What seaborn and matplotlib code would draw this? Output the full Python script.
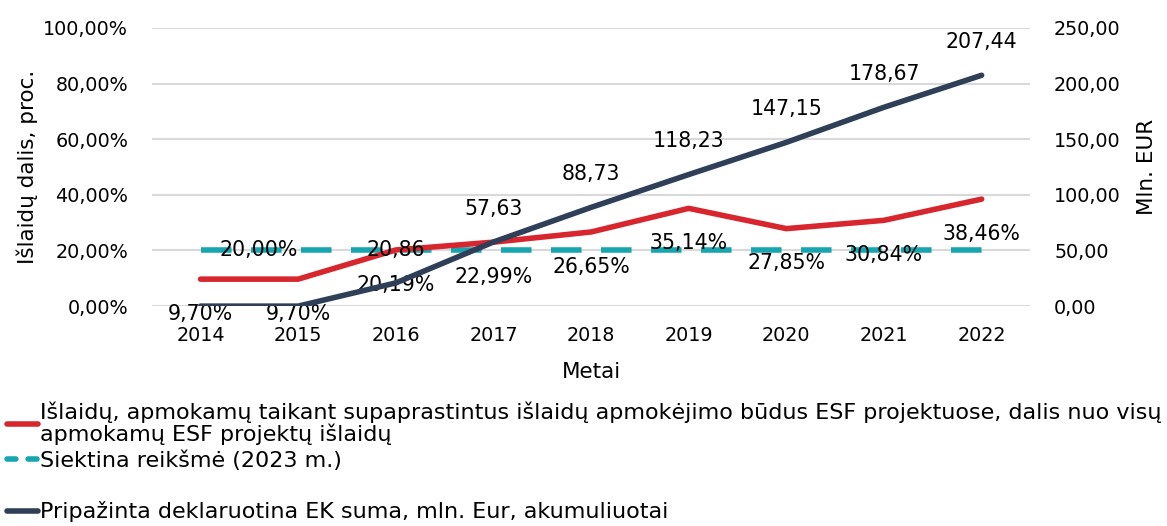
import matplotlib.pyplot as plt
import matplotlib.ticker as mticker
from matplotlib.lines import Line2D
import numpy as np
import pandas as pd
import seaborn as sns

metai = ["2014", "2015", "2016", "2017", "2018", "2019", "2020", "2021", "2022"]
dalis_proc = [9.70, 9.70, 20.19, 22.99, 26.65, 35.14, 27.85, 30.84, 38.46]
siektina = [20.0, 20.0, 20.0, 20.0, 20.0, 20.0, 20.0, 20.0, 20.0]
ek_suma = [0.0, 0.0, 20.86, 57.63, 88.73, 118.23, 147.15, 178.67, 207.44]
ek_zymes = [None, None, "20,86", "57,63", "88,73", "118,23", "147,15", "178,67", "207,44"]

leg_raudona = "Išlaidų, apmokamų taikant supaprastintus išlaidų apmokėjimo būdus ESF projektuose, dalis nuo visų\napmokamų ESF projektų išlaidų"
leg_zydra = "Siektina reikšmė (2023 m.)"
leg_melyna = "Pripažinta deklaruotina EK suma, mln. Eur, akumuliuotai"

RAUDONA = "#d7262e"
ZYDRA = "#17a6b0"
MELYNA = "#2f3f58"


def kablelis(v, n=2):
    return f"{v:.{n}f}".replace(".", ",")


def main():
    sns.set_theme(style="white")
    plt.rcParams["font.family"] = ["DejaVu Sans"]
    plt.rcParams["text.color"] = "black"
    fs = 13.8      # ašių žymės
    fs_zym = 14.8  # duomenų žymės
    fs_pav = 15.5  # ašių pavadinimai
    lw = 4.0

    df = pd.DataFrame({"Metai": metai, "Dalis": dalis_proc, "Siektina": siektina, "EK": ek_suma})
    x = np.arange(len(metai))
    df["x"] = x

    fig, ax = plt.subplots(figsize=(11.67, 5.26), dpi=100)
    fig.subplots_adjust(left=0.130, right=0.883, top=0.947, bottom=0.418)
    ax2 = ax.twinx()

    sns.lineplot(data=df, x="x", y="Siektina", ax=ax, color=ZYDRA, lw=lw, zorder=3)
    sns.lineplot(data=df, x="x", y="Dalis", ax=ax, color=RAUDONA, lw=lw, zorder=4)
    sns.lineplot(data=df, x="x", y="EK", ax=ax2, color=MELYNA, lw=lw, zorder=4)
    ax.lines[0].set_dashes([5.5, 3.5])
    for ln in ax.lines + ax2.lines:
        ln.set_solid_capstyle("round")
        ln.set_dash_capstyle("butt")

    ax.set_ylim(0, 100)
    ax2.set_ylim(0, 250)
    ax.set_xlim(-0.5, len(metai) - 0.5)
    ax.set_yticks(np.arange(0, 101, 20))
    ax2.set_yticks(np.arange(0, 251, 50))
    ax.yaxis.set_major_formatter(mticker.FuncFormatter(lambda v, p: kablelis(v) + "%"))
    ax2.yaxis.set_major_formatter(mticker.FuncFormatter(lambda v, p: kablelis(v)))
    ax.set_xticks(x)
    ax.set_xticklabels(metai)
    ax.grid(axis="y", color="#d9d9d9", lw=1.5, zorder=0)
    ax.set_axisbelow(True)
    for a in (ax, ax2):
        for s in a.spines.values():
            s.set_visible(False)
        a.tick_params(length=0, labelsize=fs, colors="black")
    ax.tick_params(axis="y", pad=17)
    ax2.tick_params(axis="y", pad=17)
    ax.tick_params(axis="x", pad=14.5)

    ax.set_xlabel("Metai", fontsize=fs_pav, labelpad=12, color="black")
    ax.set_ylabel("Išlaidų dalis, proc.", fontsize=fs_pav, labelpad=4, color="black")
    ax2.set_ylabel("Mln. EUR", fontsize=fs_pav, labelpad=12, color="black")

    # duomenų žymės
    for xi, v in zip(x, dalis_proc):
        ax.annotate(kablelis(v) + "%", (xi, v), xytext=(0, -25), textcoords="offset points",
                    ha="center", va="center", fontsize=fs_zym, color="black", zorder=6)
    ax.annotate(kablelis(siektina[0]) + "%", (x[0], siektina[0]), xytext=(42, 0),
                textcoords="offset points", ha="center", va="center", fontsize=fs_zym,
                color="black", zorder=6)
    for xi, v, t in zip(x, ek_suma, ek_zymes):
        if t is None:
            continue
        ax2.annotate(t, (xi, v), xytext=(0, 24), textcoords="offset points",
                     ha="center", va="center", fontsize=fs_zym, color="black", zorder=6)

    handles = [
        Line2D([], [], color=RAUDONA, lw=lw, solid_capstyle="round"),
        Line2D([], [], color=ZYDRA, lw=lw, dashes=[1.6, 2.2], dash_capstyle="round"),
        Line2D([], [], color="none"),
        Line2D([], [], color=MELYNA, lw=lw, solid_capstyle="round"),
    ]
    leg = fig.legend(handles, [leg_raudona, leg_zydra, "", leg_melyna], loc="upper left",
                     bbox_to_anchor=(0.006, 0.236), frameon=False, fontsize=16,
                     handlelength=1.4, handletextpad=0.1, labelspacing=0.24,
                     borderaxespad=0, borderpad=0)
    for t in leg.get_texts():
        t.set_linespacing(1.0)
        t.set_color("black")

    plt.savefig("out.png", dpi=100)


if __name__ == "__main__":
    main()
